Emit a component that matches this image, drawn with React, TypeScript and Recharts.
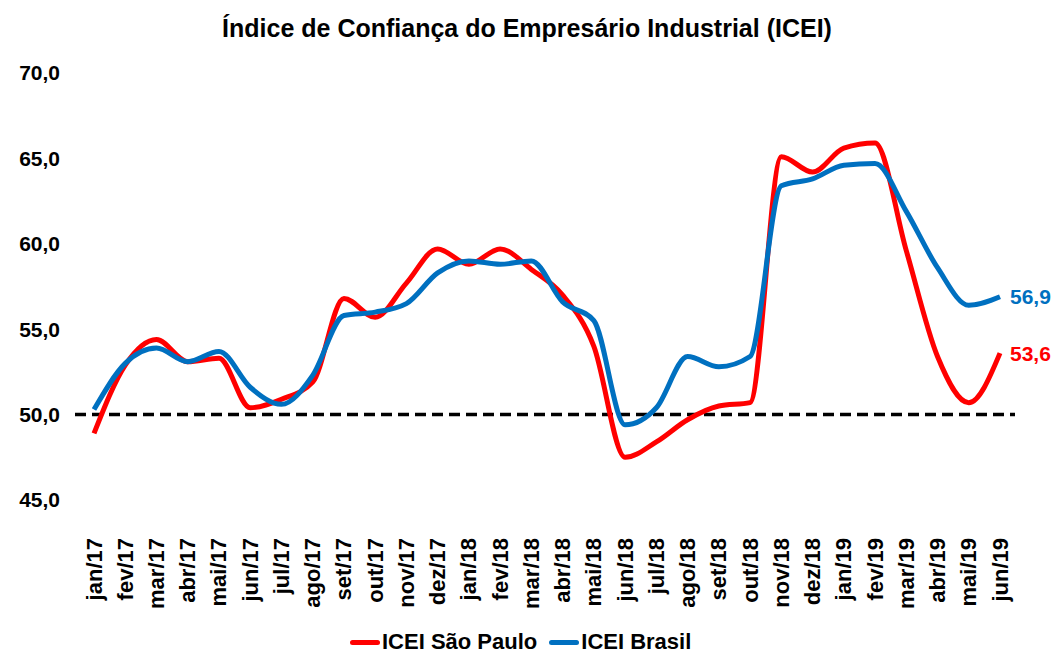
import React from "react";
import { LineChart, Line, XAxis, YAxis, ReferenceLine, LabelList } from "recharts";

const months = [
  "jan/17", "fev/17", "mar/17", "abr/17", "mai/17", "jun/17", "jul/17", "ago/17", "set/17", "out/17",
  "nov/17", "dez/17", "jan/18", "fev/18", "mar/18", "abr/18", "mai/18", "jun/18", "jul/18", "ago/18",
  "set/18", "out/18", "nov/18", "dez/18", "jan/19", "fev/19", "mar/19", "abr/19", "mai/19", "jun/19",
];

const iceiSaoPaulo = [
  48.9, 52.9, 54.4, 53.1, 53.3, 50.4, 50.9, 51.9, 56.8, 55.7,
  57.7, 59.7, 58.8, 59.7, 58.5, 57.0, 54.0, 47.5, 48.4, 49.7,
  50.5, 50.7, 65.1, 64.2, 65.6, 65.9, 59.6, 53.4, 50.7, 53.6,
];

const iceiBrasil = [
  50.3, 53.0, 53.9, 53.1, 53.7, 51.6, 50.6, 52.3, 55.8, 56.0,
  56.5, 58.3, 59.0, 58.8, 59.0, 56.6, 55.5, 49.4, 50.4, 53.4,
  52.8, 53.4, 63.4, 63.8, 64.6, 64.7, 61.9, 58.6, 56.4, 56.9,
];

const yTicks = [45, 50, 55, 60, 65, 70];

const RED = "#FF0000";
const BLUE = "#0070C0";
const FONT = "'Liberation Sans', Arial, sans-serif";

const data = months.map((m, i) => ({ month: m, sp: iceiSaoPaulo[i], br: iceiBrasil[i] }));

const fmt = (v: number) => v.toFixed(1).replace(".", ",");

const XTick = (props: any) => {
  const { x, y, payload } = props;
  const ty = y + 38;
  return (
    <text
      x={x}
      y={ty}
      transform={`rotate(-90, ${x}, ${ty})`}
      textAnchor="end"
      dominantBaseline="central"
      fontFamily={FONT}
      fontWeight="bold"
      fontSize={22}
      fill="#000"
    >
      {payload.value}
    </text>
  );
};

const endLabel = (color: string) => (p: any) => {
  if (p.index !== months.length - 1) return null;
  return (
    <text
      x={p.x + 10}
      y={p.y}
      dominantBaseline="central"
      fontFamily={FONT}
      fontWeight="bold"
      fontSize={21}
      fill={color}
    >
      {fmt(Number(p.value))}
    </text>
  );
};

const LegendItem = ({ color, label }: { color: string; label: string }) => (
  <div style={{ display: "flex", alignItems: "center", marginRight: 12 }}>
    <div style={{ width: 30, height: 5, borderRadius: 3, background: color, marginRight: 2 }} />
    <span style={{ fontFamily: FONT, fontWeight: "bold", fontSize: 22, color: "#000" }}>{label}</span>
  </div>
);

export default function App() {
  return (
    <div style={{ position: "absolute", left: 0, top: 0, width: 1054, height: 655, background: "#fff" }}>
      <div
        style={{
          position: "absolute",
          top: 13,
          left: 0,
          width: 1054,
          textAlign: "center",
          fontFamily: FONT,
          fontWeight: "bold",
          fontSize: 25,
          lineHeight: "30px",
          color: "#000",
        }}
      >
        Índice de Confiança do Empresário Industrial (ICEI)
      </div>
      <div style={{ position: "absolute", left: 0, top: 0 }}>
        <LineChart width={1054} height={610} data={data} margin={{ top: 73, right: 39, bottom: 0, left: 0 }}>
          <XAxis
            dataKey="month"
            interval={0}
            axisLine={false}
            tickLine={false}
            tickSize={0}
            tickMargin={0}
            height={110}
            padding={{ left: 19, right: 15 }}
            tick={<XTick />}
          />
          <YAxis
            domain={[45, 70]}
            ticks={yTicks}
            width={75}
            axisLine={false}
            tickLine={false}
            tickSize={0}
            tickMargin={15}
            tickFormatter={fmt}
            tick={{ fontFamily: FONT, fontWeight: "bold", fontSize: 21, fill: "#000" }}
          />
          <ReferenceLine y={50} stroke="#000" strokeWidth={3.5} strokeDasharray="11 6" />
          <Line
            type="monotone"
            dataKey="sp"
            stroke={RED}
            strokeWidth={5}
            dot={false}
            activeDot={false}
            isAnimationActive={false}
          >
            <LabelList dataKey="sp" content={endLabel(RED)} />
          </Line>
          <Line
            type="monotone"
            dataKey="br"
            stroke={BLUE}
            strokeWidth={5}
            dot={false}
            activeDot={false}
            isAnimationActive={false}
          >
            <LabelList dataKey="br" content={endLabel(BLUE)} />
          </Line>
        </LineChart>
      </div>
      <div style={{ position: "absolute", top: 629, left: 350, display: "flex", alignItems: "center" }}>
        <LegendItem color={RED} label="ICEI São Paulo" />
        <LegendItem color={BLUE} label="ICEI Brasil" />
      </div>
    </div>
  );
}
